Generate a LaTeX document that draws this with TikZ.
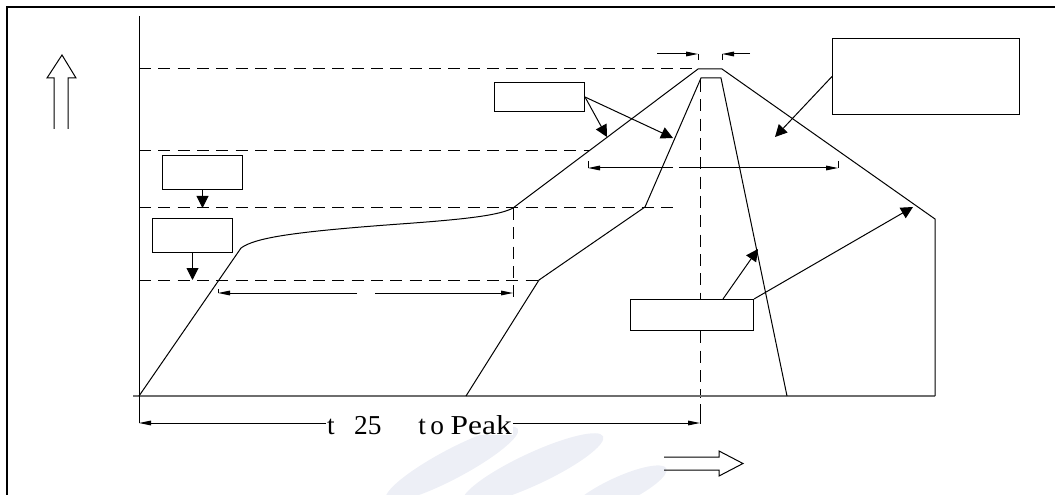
\documentclass[tikz,border=0pt]{standalone}
\usepackage{fontspec}
\usepackage{graphicx}
\setmainfont{DejaVu Serif}
\newfontfamily\lserif{Liberation Serif}
\usetikzlibrary{arrows.meta,calc}
\begin{document}
\begin{tikzpicture}[x=0.75pt,y=-0.75pt,
  line/.style={draw=black,line width=0.75pt},
  dashline/.style={draw=black,line width=0.75pt,dash pattern=on 9pt off 5.5pt},
  box/.style={draw=black,line width=0.75pt,fill=white,inner sep=0pt,anchor=north west},
  bigarr/.style={draw=black,line width=0.75pt,-{Triangle[length=9pt,width=9pt]}},
  dimarr/.style={draw=black,line width=0.75pt,-{Triangle[length=9pt,width=3.5pt]}},
  wm/.style={fill={rgb,255:red,237;green,239;blue,246}}
]
\useasboundingbox (0,0) rectangle (1055,495);
% watermark
\begin{scope}
  \clip (0,0) rectangle (1055,495);
  \begin{scope}[rotate around={28:(452,464)}]
    \fill[wm] (452,464) ellipse [x radius=56pt, y radius=11pt];
  \end{scope}
  \begin{scope}[rotate around={25:(533,469)}]
    \fill[wm] (533,469) ellipse [x radius=58pt, y radius=12pt];
  \end{scope}
  \begin{scope}[rotate around={25:(618,491)}]
    \fill[wm] (618,491) ellipse [x radius=40pt, y radius=10pt];
  \end{scope}
\end{scope}
% frame
\draw[line width=1.5pt] (7,495) -- (7,7) -- (1055,7);
% hollow arrows
\draw[line] (54,129) -- (54,78) -- (47,78) -- (62,55) -- (76,78) -- (68,78) -- (68,129);
\draw[line] (664,457) -- (719,457) -- (719,451) -- (743,463.5) -- (719,476) -- (719,470) -- (664,470);
% dashed guide lines
\draw[dashline] (139,69) -- (698,69);
\draw[dashline] (139,151) -- (590,151);
\draw[dashline] (139,208) -- (675,208);
\draw[dashline] (139,280) -- (539,280);
\draw[dashline] (513,208) -- (513,298);
\draw[dashline] (700,80) -- (700,398);
\draw[line] (700,404) -- (700,424);
% axes
\draw[draw={rgb,255:red,110;green,110;blue,110},line width=1.5pt] (133,396) -- (935,396);
\draw[line] (139,16) -- (139,423);
% profile curves
\draw[line] (139,396) -- (241,248) .. controls (255,238) and (290,232) .. (400,224)
  .. controls (470,219) and (500,215) .. (513,208) -- (698,69) -- (722,69) -- (935,219) -- (935,396);
\draw[line] (466,396) -- (539,280) -- (645,207) -- (701,78) -- (721,78) -- (787,396);
% boxes
\node[box,minimum width=60pt,minimum height=25.5pt] (A) at (162,155) {};
\node[box,minimum width=60pt,minimum height=25.5pt] (B) at (152,218) {};
\node[box,minimum width=67.5pt,minimum height=21.75pt] (C) at (494,82) {};
\node[box,minimum width=140.25pt,minimum height=57pt] (D) at (832,38) {};
\node[box,minimum width=92.25pt,minimum height=23.25pt] (E) at (630,299) {};
% arrow targets
\coordinate (tA) at (A.south |- 0,208);
\coordinate (tB) at (B.south |- 0,280);
\coordinate (tC1) at (607,137);
\coordinate (tC2) at (673,138);
\coordinate (tD) at (775,137);
\coordinate (sE1) at ($(E.north west)!0.75!(E.north east)$);
\coordinate (tE1) at (758,249);
\coordinate (tE2) at (913,207);
\draw[bigarr] (A.south) -- (tA);
\draw[bigarr] (B.south) -- (tB);
\draw[bigarr] (C.east) -- (tC1);
\draw[bigarr] (C.east) -- (tC2);
\draw[bigarr] (D.west) -- (tD);
\draw[bigarr] (sE1) -- (tE1);
\draw[bigarr] (E.north east) -- (tE2);
% dimension: top small
\coordinate (p1) at (657,54); \coordinate (p2) at (698,54);
\coordinate (p3) at (750,54); \coordinate (p4) at (722,54);
\draw[dimarr] (p1) -- (p2);
\draw[dimarr] (p3) -- (p4);
\draw[line] (698,54) -- (698,60);
\draw[line] (722,54) -- (722,60);
% dimension: upper
\coordinate (u1) at (588,168); \coordinate (u2) at (673,168);
\coordinate (u3) at (679,168); \coordinate (u4) at (838,168);
\draw[dimarr] (u2) -- (u1);
\draw[dimarr] (u3) -- (u4);
\draw[line] (588,161) -- (588,168);
\draw[line] (838,161) -- (838,168);
% dimension: lower left
\coordinate (l1) at (218,293); \coordinate (l2) at (357,293);
\coordinate (l3) at (375,293); \coordinate (l4) at (513,293);
\draw[dimarr] (l2) -- (l1);
\draw[dimarr] (l3) -- (l4);
\draw[line] (218,289) -- (218,293);
% bottom dimension with text
\node[fill=white,inner sep=0.5pt,font=\lserif\fontsize{20.5pt}{24pt}\selectfont] (T) at (419.5,425)
  {t\hspace{14.5pt}25\hspace{27.75pt}t\hspace{3.3pt}o\hspace{5pt}\scalebox{1.15}[1]{Peak}};
\coordinate (L) at (139,423); \coordinate (R) at (700,423);
\draw[dimarr] (T.west |- L) -- (L);
\draw[dimarr] (T.east |- R) -- (R);
\end{tikzpicture}
\end{document}
